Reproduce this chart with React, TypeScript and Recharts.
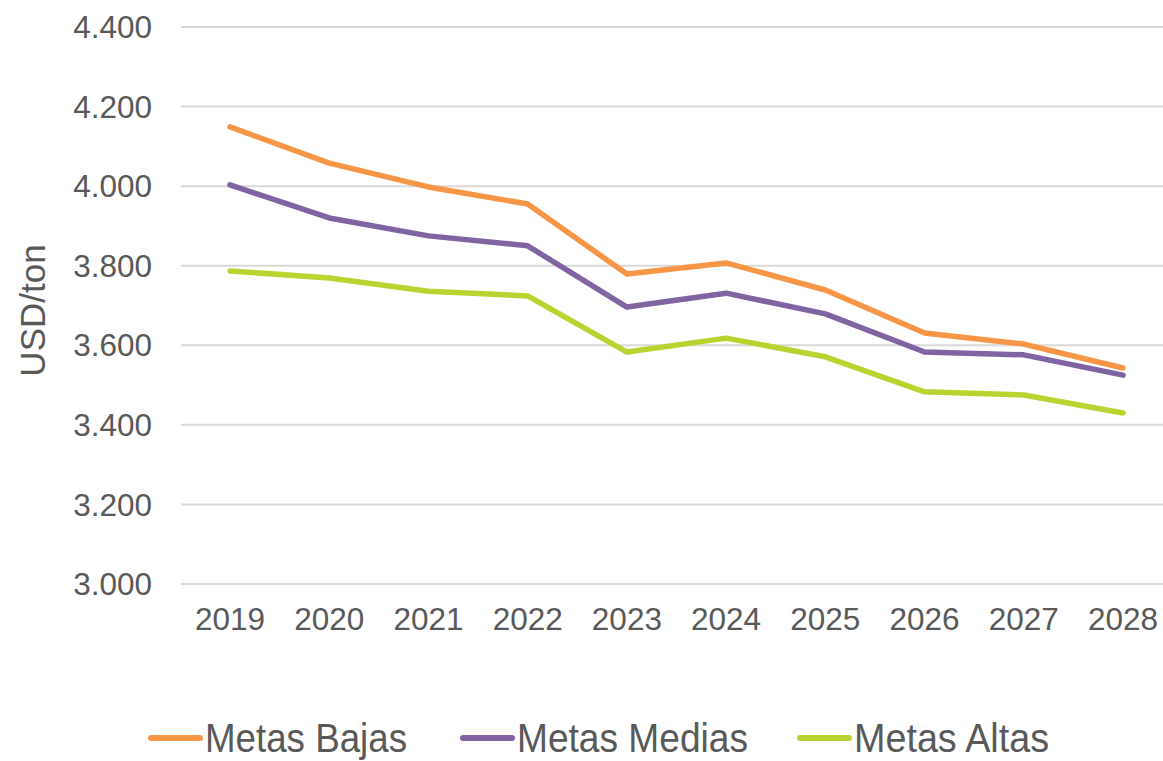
import { LineChart, Line, XAxis, YAxis, CartesianGrid, Legend } from "recharts";

const years = ["2019", "2020", "2021", "2022", "2023", "2024", "2025", "2026", "2027", "2028"];
const metasBajas = [4149, 4058, 3998, 3955, 3779, 3807, 3739, 3631, 3603, 3543];
const metasMedias = [4003, 3920, 3875, 3850, 3696, 3731, 3679, 3583, 3576, 3525];
const metasAltas = [3787, 3769, 3736, 3724, 3583, 3618, 3571, 3483, 3475, 3430];
const yTicks = [3000, 3200, 3400, 3600, 3800, 4000, 4200, 4400];

const series = [
  { key: "bajas", name: "Metas Bajas", color: "#F79646", textWidth: 202 },
  { key: "medias", name: "Metas Medias", color: "#8064A2", textWidth: 231 },
  { key: "altas", name: "Metas Altas", color: "#B9D431", textWidth: 195 },
];

const data = years.map((year, i) => ({
  year,
  bajas: metasBajas[i],
  medias: metasMedias[i],
  altas: metasAltas[i],
}));

const textColor = "#595959";
const fontFamily = "'Liberation Sans', Arial, sans-serif";

// 4400 -> "4.400"
const formatTick = (v: number) => `${Math.floor(v / 1000)}.${String(v % 1000).padStart(3, "0")}`;

// legend drawn by hand so the condensed text can be matched
const LegendContent = () => {
  const starts = [148, 460, 797];
  return (
    <svg width={1163} height={40} style={{ display: "block", overflow: "visible" }}>
      {series.map((s, i) => (
        <g key={s.key}>
          <line x1={starts[i] + 3} x2={starts[i] + 52} y1={17} y2={17} stroke={s.color} strokeWidth={6} strokeLinecap="round" />
          <text
            x={starts[i] + 57}
            y={31}
            fontSize={40}
            fill={textColor}
            fontFamily={fontFamily}
            textLength={s.textWidth}
            lengthAdjust="spacingAndGlyphs"
          >
            {s.name}
          </text>
        </g>
      ))}
    </svg>
  );
};

const YLabel = ({ viewBox }: any) => {
  const cy = viewBox.y + viewBox.height / 2 + 5;
  return (
    <text
      x={32}
      y={cy}
      transform={`rotate(-90, 32, ${cy})`}
      textAnchor="middle"
      dominantBaseline="central"
      fontSize={35}
      fill={textColor}
      fontFamily={fontFamily}
    >
      USD/ton
    </text>
  );
};

export default function App() {
  return (
    <div style={{ width: 1163, height: 761, overflow: "hidden", background: "#fff" }}>
      <style>{"body{margin:0}"}</style>
      <LineChart
        width={1163}
        height={761}
        data={data}
        margin={{ top: 27, right: 0, left: 0, bottom: 0 }}
        style={{ fontFamily }}
      >
        <CartesianGrid vertical={false} stroke="#D9D9D9" strokeWidth={2} />
        <XAxis
          dataKey="year"
          axisLine={false}
          tickLine={false}
          tickSize={0}
          tickMargin={24}
          height={137}
          padding={{ left: 49, right: 40 }}
          interval={0}
          tick={{ fill: textColor, fontSize: 31.5 }}
        />
        <YAxis
          width={181}
          domain={[3000, 4400]}
          ticks={yTicks}
          axisLine={false}
          tickLine={false}
          tickSize={0}
          tickMargin={29}
          tickFormatter={formatTick}
          tick={{ fill: textColor, fontSize: 31.5 }}
          label={<YLabel />}
        />
        {series.map((s) => (
          <Line
            key={s.key}
            type="linear"
            dataKey={s.key}
            name={s.name}
            stroke={s.color}
            strokeWidth={5.5}
            strokeLinecap="round"
            strokeLinejoin="round"
            dot={false}
            activeDot={false}
            isAnimationActive={false}
          />
        ))}
        <Legend
          verticalAlign="bottom"
          content={<LegendContent />}
          wrapperStyle={{ left: 0, bottom: 0, width: 1163, height: 40 }}
        />
      </LineChart>
    </div>
  );
}
